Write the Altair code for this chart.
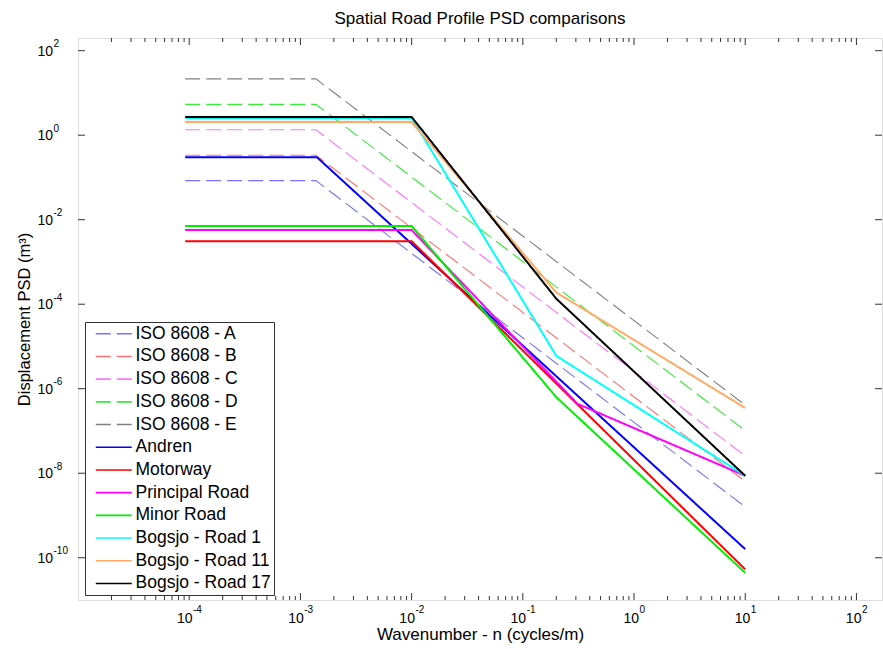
import altair as alt
import pandas as pd

# ---------------- data ----------------
series_names = ["ISO 8608 - A", "ISO 8608 - B", "ISO 8608 - C", "ISO 8608 - D", "ISO 8608 - E",
                "Andren", "Motorway", "Principal Road", "Minor Road",
                "Bogsjo - Road 1", "Bogsjo - Road 11", "Bogsjo - Road 17"]
series_colors = ["#7373ff", "#ff7373", "#ff73ff", "#33ee33", "#808080",
                 "#0000ff", "#ff0000", "#ff00ff", "#00ee00",
                 "#00ffff", "#ffaa66", "#000000"]

iso_n = [9.2e-5, 1.38e-3, 10.0]
iso_a = [0.084, 0.084, 1.6e-9]
iso_b = [0.336, 0.336, 6.4e-9]
iso_c = [1.34, 1.34, 2.56e-8]
iso_d = [5.37, 5.37, 1.02e-7]
iso_e = [21.5, 21.5, 4.1e-7]

andren_n = [9.2e-5, 1.41e-3, 10.0]
andren = [0.30, 0.30, 1.6e-10]
motorway_n = [9.2e-5, 1.0e-2, 10.0]
motorway = [0.0031, 0.0031, 5.3e-11]
principal_n = [9.2e-5, 1.0e-2, 0.31, 10.0]
principal = [0.0057, 0.0057, 4.4e-7, 8.7e-9]
minor_n = [9.2e-5, 1.0e-2, 0.2, 10.0]
minor = [0.0071, 0.0071, 6.3e-7, 4.4e-11]
bog1_n = [9.2e-5, 1.0e-2, 0.2, 10.0]
bog1 = [2.55, 2.55, 6.0e-6, 8.7e-9]
bog11_n = [9.2e-5, 1.0e-2, 0.2, 10.0]
bog11 = [2.05, 2.05, 1.9e-4, 3.5e-7]
bog17_n = [9.2e-5, 1.0e-2, 0.2, 10.0]
bog17 = [2.7, 2.7, 1.35e-4, 8.7e-9]

x_label_exps = [-4, -3, -2, -1, 0, 1, 2]
y_label_exps = [2, 0, -2, -4, -6, -8, -10]
x_domain = [1e-5, 10 ** 2.23]
y_domain = [1e-11, 10 ** 2.3]

# ---------------- tables ----------------
xs = [iso_n] * 5 + [andren_n, motorway_n, principal_n, minor_n, bog1_n, bog11_n, bog17_n]
ys = [iso_a, iso_b, iso_c, iso_d, iso_e, andren, motorway, principal, minor, bog1, bog11, bog17]
rows = []
for name, nx, py in zip(series_names, xs, ys):
    for i, (a, b) in enumerate(zip(nx, py)):
        rows.append({"series": name, "n": a, "psd": b, "i": i,
                     "w": 1.1 if name.startswith("ISO") else 2.0})
df = pd.DataFrame(rows)

W, H = 804, 562
FONT = "Liberation Sans"
xscale = alt.Scale(type="log", domain=x_domain, nice=False)
yscale = alt.Scale(type="log", domain=y_domain, nice=False)

dash_range = [[15, 6]] * 5 + [[1, 0]] * 7

lines = alt.Chart(df).mark_line(clip=True, strokeCap="butt").encode(
    x=alt.X("n:Q", scale=xscale,
            axis=alt.Axis(title="Wavenumber - n (cycles/m)", labels=False, ticks=False,
                          domain=False, grid=False, titleFont=FONT, titleFontSize=17,
                          titleFontWeight="normal", titleColor="#000", titlePadding=26)),
    y=alt.Y("psd:Q", scale=yscale,
            axis=alt.Axis(title="Displacement PSD (m³)", labels=False, ticks=False,
                          domain=False, grid=False, titleFont=FONT, titleFontSize=16.5,
                          titleFontWeight="normal", titleColor="#000", titlePadding=46)),
    color=alt.Color("series:N", scale=alt.Scale(domain=series_names, range=series_colors),
                    legend=alt.Legend(orient="none", legendX=7, legendY=284, title=None,
                                      symbolType="M-3.6,0L3.6,0", symbolSize=100,
                                      symbolStrokeWidth=1.6,
                                      labelFont=FONT, labelFontSize=17.5, labelColor="#000",
                                      padding=3, rowPadding=3.7, symbolOffset=17, labelOffset=13,
                                      strokeColor="#333", fillColor="white", labelLimit=300)),
    strokeDash=alt.StrokeDash("series:N", scale=alt.Scale(domain=series_names, range=dash_range)),
    strokeWidth=alt.StrokeWidth("w:Q", scale=None, legend=None),
    order=alt.Order("i:Q"),
)

# ---------------- ticks (inward, MATLAB style) ----------------
major_x, minor_x = [], []
for d in range(-5, 3):
    for k in range(1, 10):
        v = k * 10.0 ** d
        if x_domain[0] < v < x_domain[1]:
            (major_x if k == 1 else minor_x).append(v)
major_y = [10.0 ** e for e in y_label_exps]

tmaj = pd.DataFrame({"n": major_x})
tmin = pd.DataFrame({"n": minor_x})
tyy = pd.DataFrame({"psd": major_y})
tc = "#333"

def xtick(data, y1, y2):
    return alt.Chart(data).mark_rule(color=tc, strokeWidth=1).encode(
        x=alt.X("n:Q", scale=xscale, axis=None), y=alt.value(y1), y2=alt.value(y2))

def ytick(x1, x2):
    return alt.Chart(tyy).mark_rule(color=tc, strokeWidth=1).encode(
        y=alt.Y("psd:Q", scale=yscale, axis=None), x=alt.value(x1), x2=alt.value(x2))

ticks = [xtick(tmaj, H, H - 7), xtick(tmin, H, H - 4), xtick(tmaj, 0, 7), xtick(tmin, 0, 4),
         ytick(0, 7), ytick(W, W - 7)]

# ---------------- tick labels ----------------
xl = pd.DataFrame({"n": [10.0 ** e for e in x_label_exps], "exp": [str(e) for e in x_label_exps],
                   "neg": [e < 0 for e in x_label_exps]})
yl = pd.DataFrame({"psd": [10.0 ** e for e in y_label_exps], "exp": [str(e) for e in y_label_exps]})

FS, FE = 14, 10
w10 = 2 * 0.556 * FS
labels = []
for neg in (True, False):
    sub = xl[xl["neg"] == neg]
    wexp = (0.889 if neg else 0.556) * FE
    off = (w10 - wexp) / 2
    labels.append(alt.Chart(sub).mark_text(align="right", baseline="alphabetic", font=FONT,
                                           fontSize=FS, color="#000", dx=off).encode(
        x=alt.X("n:Q", scale=xscale, axis=None), y=alt.value(H + 23), text=alt.value("10")))
    labels.append(alt.Chart(sub).mark_text(align="left", baseline="alphabetic", font=FONT,
                                           fontSize=FE, color="#000", dx=off + 0.5).encode(
        x=alt.X("n:Q", scale=xscale, axis=None), y=alt.value(H + 13), text="exp:N"))

labels.append(alt.Chart(yl).mark_text(align="right", baseline="alphabetic", font=FONT,
                                      fontSize=FS, color="#000", dy=5).encode(
    y=alt.Y("psd:Q", scale=yscale, axis=None), x=alt.value(-25), text=alt.value("10")))
labels.append(alt.Chart(yl).mark_text(align="left", baseline="alphabetic", font=FONT,
                                      fontSize=FE, color="#000", dy=-3.5).encode(
    y=alt.Y("psd:Q", scale=yscale, axis=None), x=alt.value(-24.5), text="exp:N"))

chart = alt.layer(*ticks, *labels, lines).properties(
    width=W, height=H,
    title=alt.TitleParams("Spatial Road Profile PSD comparisons", font=FONT, fontSize=17,
                          fontWeight="normal", color="#000", anchor="middle", offset=10),
    autosize=alt.AutoSizeParams(type="none"),
    padding={"left": 78, "top": 38, "right": 1, "bottom": 49},
).resolve_axis(x="independent", y="independent").configure_view(
    stroke="#333", strokeWidth=1).configure(background="white")

chart.save("out.html", embed_options={"renderer": "svg", "actions": False})
